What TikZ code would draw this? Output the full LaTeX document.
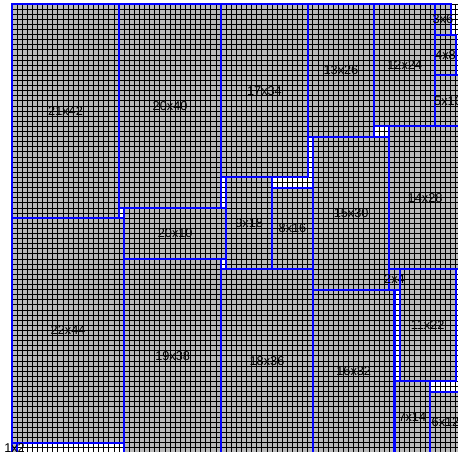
\documentclass[tikz,border=0pt]{standalone}
\usepackage{fontspec}
\setmainfont{Liberation Sans}
\usepackage{tikz}
\usetikzlibrary{positioning}

\begin{document}
\begin{tikzpicture}[x=0.18cm, y=-0.18cm,
    tile/.style={fill=tilegray},
    cellline/.style={draw=black, line width=0.95pt},
    rim/.style={draw=rimblue, line width=2.1pt},
    lab/.style={font=\fontsize{12.8}{14}\selectfont, text=black, inner sep=0pt}]
    \definecolor{tilegray}{RGB}{185,185,185}
    \definecolor{rimblue}{RGB}{0,0,255}
    \useasboundingbox (-2.353,-0.784) rectangle (87.45,87.84);
    \fill[white] (-2.353,-0.784) rectangle (87.45,87.84);
    \clip (-2.353,-0.784) rectangle (87.45,87.84);
    % placed pieces: x / y / width / height
    \def\pieces{0/0/21/42, 21/0/20/40, 41/0/17/34, 58/0/13/26,
        71/0/12/24, 83/0/3/6, 83/6/4/8, 83/14/5/10,
        74/24/14/28, 59/26/15/30, 42/34/9/18, 51/36/8/16,
        22/40/20/10, 0/42/22/44, 0/86/1/2, 22/50/19/38,
        41/52/18/36, 74/52/2/4, 76/52/11/22, 59/56/16/32,
        75/74/7/14, 82/76/6/12}
    \foreach \x/\y/\w/\h in \pieces{
        \fill[tile] (\x,\y) rectangle ++(\w,\h);
    }
    % cell grid over the board
    \foreach \i in {0,...,88}{
        \draw[cellline] (\i,0) -- (\i,88);
        \draw[cellline] (0,\i) -- (88,\i);
    }
    % piece outlines and sizes
    \foreach \x/\y/\w/\h in \pieces{
        \draw[rim] (\x,\y) rectangle ++(\w,\h);
        \node[lab] (p\w-\h) at (\x+\w/2,\y+\h/2) {\w x\h};
    }
\end{tikzpicture}
\end{document}
